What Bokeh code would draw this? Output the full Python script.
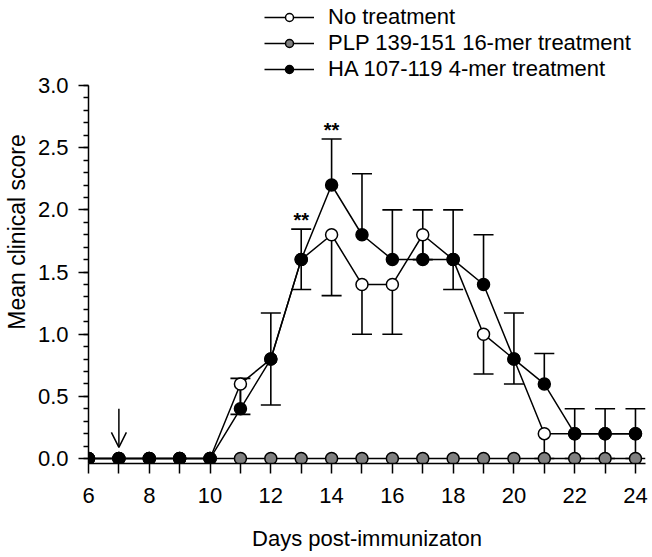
from bokeh.plotting import figure
from bokeh.models import (Range1d, FixedTicker, Whisker, TeeHead, Legend, LegendItem,
                          Arrow, OpenHead, ColumnDataSource, NumeralTickFormatter)
from bokeh.embed import file_html
from bokeh.resources import INLINE
from bokeh.core.properties import value

# ---------------- data ----------------
days = list(range(6, 25))
no_treatment = [0, 0, 0, 0, 0, 0.6, 0.8, 1.6, 1.8, 1.4, 1.4, 1.8, 1.6, 1.0, 0.8, 0.2, 0.2, 0.2, 0.2]
no_treatment_err = [0, 0, 0, 0, 0, 0.245, 0.37, 0.24, 0.49, 0.4, 0.4, 0.2, 0.24, 0.32, 0.2, 0.2, 0.2, 0.2, 0.2]
plp = [0, 0, 0, 0, 0, 0, 0, 0, 0, 0, 0, 0, 0, 0, 0, 0, 0, 0, 0]
ha = [0, 0, 0, 0, 0, 0.4, 0.8, 1.6, 2.2, 1.8, 1.6, 1.6, 1.6, 1.4, 0.8, 0.6, 0.2, 0.2, 0.2]
ha_err = [0, 0, 0, 0, 0, 0.245, 0.37, 0.245, 0.37, 0.49, 0.4, 0.4, 0.4, 0.4, 0.37, 0.245, 0.2, 0.2, 0.2]

series_labels = ["No treatment", "PLP 139-151 16-mer treatment", "HA 107-119 4-mer treatment"]
star_days = [13, 14]
star_text = "**"
arrow_day = 7
arrow_top = 0.40
arrow_tip = 0.09

x_ticks = [6, 8, 10, 12, 14, 16, 18, 20, 22, 24]
x_minor = [7, 9, 11, 13, 15, 17, 19, 21, 23]
y_ticks = [0.0, 0.5, 1.0, 1.5, 2.0, 2.5, 3.0]
y_minor = [round(i * 0.1, 1) for i in range(31)]
y_axis_bounds = (-0.04, 3.0)

FONT = "Liberation Sans"
FS = "22px"

p = figure(width=648, height=557, output_backend="svg", toolbar_location=None,
           x_range=Range1d(6, 24.33), y_range=Range1d(-0.04, 3.684),
           min_border_left=87, min_border_top=0, min_border_right=3, min_border_bottom=94)
p.outline_line_color = None
p.grid.visible = False
p.background_fill_color = "white"

# ---------------- error bars ----------------
def lower_bars(y, err):
    xs = [d for d, e in zip(days, err) if e > 0]
    ys = [v for v, e in zip(y, err) if e > 0]
    lo = [v - e for v, e in zip(y, err) if e > 0]
    return ColumnDataSource(dict(base=xs, upper=ys, lower=lo))

def upper_bars(y, err):
    xs = [d for d, e in zip(days, err) if e > 0]
    ys = [v for v, e in zip(y, err) if e > 0]
    hi = [v + e for v, e in zip(y, err) if e > 0]
    return ColumnDataSource(dict(base=xs, upper=hi, lower=ys))

w1 = Whisker(source=lower_bars(no_treatment, no_treatment_err), base="base", upper="upper",
             lower="lower", upper_head=None,
             lower_head=TeeHead(size=20, line_width=1.6, line_color="black"),
             line_width=1.6, line_color="black", level="underlay")
w2 = Whisker(source=upper_bars(ha, ha_err), base="base", upper="upper", lower="lower",
             lower_head=None,
             upper_head=TeeHead(size=20, line_width=1.6, line_color="black"),
             line_width=1.6, line_color="black", level="underlay")
p.add_layout(w1)
p.add_layout(w2)

# ---------------- series ----------------
l1 = p.line(days, no_treatment, line_color="black", line_width=1.5)
s1 = p.scatter(days, no_treatment, size=12, fill_color="white", line_color="black", line_width=1.5)
l2 = p.line(days, plp, line_color="black", line_width=1.5)
s2 = p.scatter(days, plp, size=12, fill_color="#808080", line_color="black", line_width=1.5)
l3 = p.line(days, ha, line_color="black", line_width=1.5)
s3 = p.scatter(days, ha, size=12, fill_color="black", line_color="black", line_width=1.5)

# ---------------- significance stars ----------------
star_y = [ha[days.index(d)] + ha_err[days.index(d)] + 0.07 for d in star_days]
p.text(x=star_days, y=star_y, text=[star_text] * len(star_days), text_align="center",
       text_baseline="alphabetic", text_font=value(FONT), text_font_size="20px",
       text_font_style="bold", text_color="black")

# ---------------- arrow ----------------
p.add_layout(Arrow(x_start=arrow_day, y_start=arrow_top, x_end=arrow_day, y_end=arrow_tip,
                   line_width=1.5, line_color="black",
                   end=OpenHead(size=15, line_width=1.5, line_color="black")))

# ---------------- axes ----------------
p.xaxis.ticker = FixedTicker(ticks=x_ticks, minor_ticks=x_minor)
p.yaxis.ticker = FixedTicker(ticks=y_ticks, minor_ticks=y_minor)
p.yaxis.formatter = NumeralTickFormatter(format="0.0")
p.yaxis.bounds = y_axis_bounds

for ax in (p.xaxis, p.yaxis):
    ax.axis_line_color = "black"
    ax.axis_line_width = 1.5
    ax.major_tick_line_color = "black"
    ax.major_tick_line_width = 1.5
    ax.minor_tick_line_color = "black"
    ax.minor_tick_line_width = 1.5
    ax.major_tick_in = 0
    ax.minor_tick_in = 0
    ax.major_label_text_font = FONT
    ax.major_label_text_font_size = FS
    ax.major_label_text_color = "black"
    ax.axis_label_text_font = FONT
    ax.axis_label_text_font_size = FS
    ax.axis_label_text_font_style = "normal"
    ax.axis_label_text_color = "black"

p.yaxis.axis_label_text_font_size = "23px"
p.xaxis.major_tick_out = 10
p.xaxis.minor_tick_out = 10
p.yaxis.major_tick_out = 10
p.yaxis.minor_tick_out = 5
p.xaxis.major_label_standoff = 14
p.yaxis.major_label_standoff = 10
p.xaxis.axis_label = "Days post-immunizaton"
p.yaxis.axis_label = "Mean clinical score"
p.xaxis.axis_label_standoff = 20
p.yaxis.axis_label_standoff = 5

# ---------------- legend ----------------
legend = Legend(items=[LegendItem(label=series_labels[0], renderers=[l1, s1]),
                       LegendItem(label=series_labels[1], renderers=[l2, s2]),
                       LegendItem(label=series_labels[2], renderers=[l3, s3])],
                location=(176, 381), orientation="vertical",
                glyph_width=50, glyph_height=20, label_height=20, spacing=0,
                label_standoff=14, padding=0, margin=0,
                border_line_color=None, background_fill_alpha=0,
                label_text_font=FONT, label_text_font_size=FS, label_text_color="black")
p.add_layout(legend, "center")

open("out.html", "w").write(file_html(p, INLINE))
